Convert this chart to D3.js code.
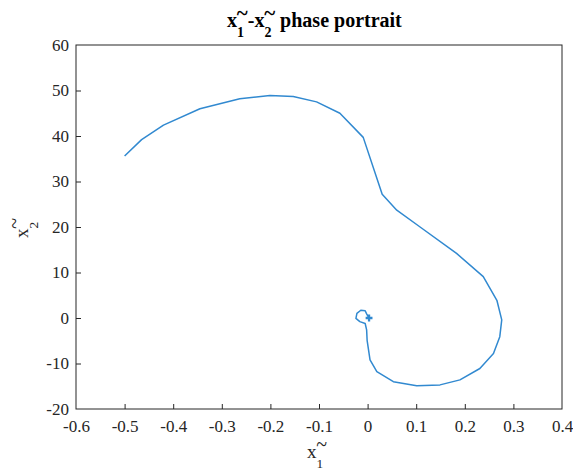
<!DOCTYPE html>
<html>
<head>
<meta charset="utf-8">
<script src="https://cdn.jsdelivr.net/npm/d3@7"></script>
<style>
  body { margin: 0; background: #fff; }
  svg text { font-family: "Liberation Serif", "Times New Roman", serif; }
</style>
</head>
<body>
<script>
// trajectory of the phase portrait
const x1 = [-0.5, -0.465, -0.42, -0.345, -0.263, -0.201, -0.153, -0.105, -0.057, -0.009,
  0.030, 0.06, 0.108, 0.183, 0.238, 0.266, 0.276, 0.272, 0.259, 0.231, 0.190, 0.149, 0.101,
  0.053, 0.019, 0.005, -0.001, -0.002, -0.005, -0.016, -0.024, -0.022, -0.014, -0.005, -0.002, 0.003];
const x2 = [35.6, 39.2, 42.4, 46.0, 48.2, 48.9, 48.7, 47.5, 45.0, 39.7,
  27.2, 23.7, 20.0, 14.2, 9.1, 3.9, -0.4, -4.1, -7.8, -11.1, -13.6, -14.7, -14.9,
  -14.0, -11.8, -9.2, -4.9, -2.6, -1.2, -0.8, -0.1, 1.0, 1.7, 1.6, 0.9, 0.0];
const xTicks = [-0.6, -0.5, -0.4, -0.3, -0.2, -0.1, 0, 0.1, 0.2, 0.3, 0.4];
const yTicks = [-20, -10, 0, 10, 20, 30, 40, 50, 60];

const width = 573, height = 472;
const margin = {left: 76, right: 11, top: 45, bottom: 63};

const svg = d3.select("body").append("svg")
    .attr("width", width)
    .attr("height", height);

const x = d3.scaleLinear().domain([-0.6, 0.4]).range([margin.left, width - margin.right]);
const y = d3.scaleLinear().domain([-20, 60]).range([height - margin.bottom, margin.top]);

const axisColor = "#262626";
const serif = '"Liberation Serif", "Times New Roman", serif';

// axes, ticks pointing inward like matlab
const gx = svg.append("g")
    .attr("transform", `translate(0,${height - margin.bottom})`)
    .call(d3.axisBottom(x).tickValues(xTicks).tickSize(-5).tickPadding(11).tickFormat(d => String(d)));

const gy = svg.append("g")
    .attr("transform", `translate(${margin.left},0)`)
    .call(d3.axisLeft(y).tickValues(yTicks).tickSize(-5).tickPadding(7).tickFormat(d => String(d)));

[gx, gy].forEach(g => {
  g.attr("font-family", serif).attr("font-size", 17);
  g.select(".domain").remove();
  g.selectAll("line").attr("stroke", axisColor);
  g.selectAll("text").attr("fill", axisColor)
      .style("font-family", serif).style("font-size", "17px");
  g.selectAll(".tick").filter(d => d === -0.6 || d === 0.4 || d === -20 || d === 60).select("line").remove();
});

// box
svg.append("rect")
    .attr("x", margin.left).attr("y", margin.top)
    .attr("width", width - margin.left - margin.right)
    .attr("height", height - margin.top - margin.bottom)
    .attr("fill", "none").attr("stroke", axisColor).attr("stroke-width", 1);

const pts = x1.map((d, i) => [d, x2[i]]);
const line = d3.line().x(d => x(d[0])).y(d => y(d[1]));

svg.append("path")
    .datum(pts)
    .attr("d", line)
    .attr("fill", "none")
    .attr("stroke", "#3189d0")
    .attr("stroke-width", 1.5)
    .attr("stroke-linejoin", "round");

// end marker
const last = pts[pts.length - 1];
svg.append("path")
    .attr("d", d3.symbol(d3.symbolCross, 26)())
    .attr("transform", `translate(${x(last[0])},${y(last[1])})`)
    .attr("fill", "#3189d0");

// x with a tilde above and a subscript index; returns dy to get back to baseline
function tildeVar(sel, idx, size, first) {
  const t = sel.append("tspan").text("x");
  if (first) t.attr("dy", first);
  const sub = size * 0.5;
  sel.append("tspan").attr("dy", sub).style("font-size", (size * 0.7) + "px").text(idx);
  sel.append("tspan").attr("dx", -size * 0.36).attr("dy", -sub - size * 0.37)
      .style("font-size", (size * 1.05) + "px").text("~");
  return size * 0.37;
}

// title
const title = svg.append("text")
    .attr("x", 227).attr("y", 27)
    .style("font-size", "20px").style("font-weight", "bold").attr("fill", "#000");
let back = tildeVar(title, "1", 20);
title.append("tspan").attr("dy", back).text("-");
back = tildeVar(title, "2", 20);
title.append("tspan").attr("dy", back).text(" phase portrait");

// x label
const xl = svg.append("text")
    .attr("x", 307).attr("y", 458)
    .style("font-size", "19px").attr("fill", axisColor);
tildeVar(xl, "1", 19);

// y label
const yl = svg.append("text")
    .attr("transform", "translate(28,238) rotate(-90)")
    .style("font-size", "19px").attr("fill", axisColor);
tildeVar(yl, "2", 19);
</script>
</body>
</html>
